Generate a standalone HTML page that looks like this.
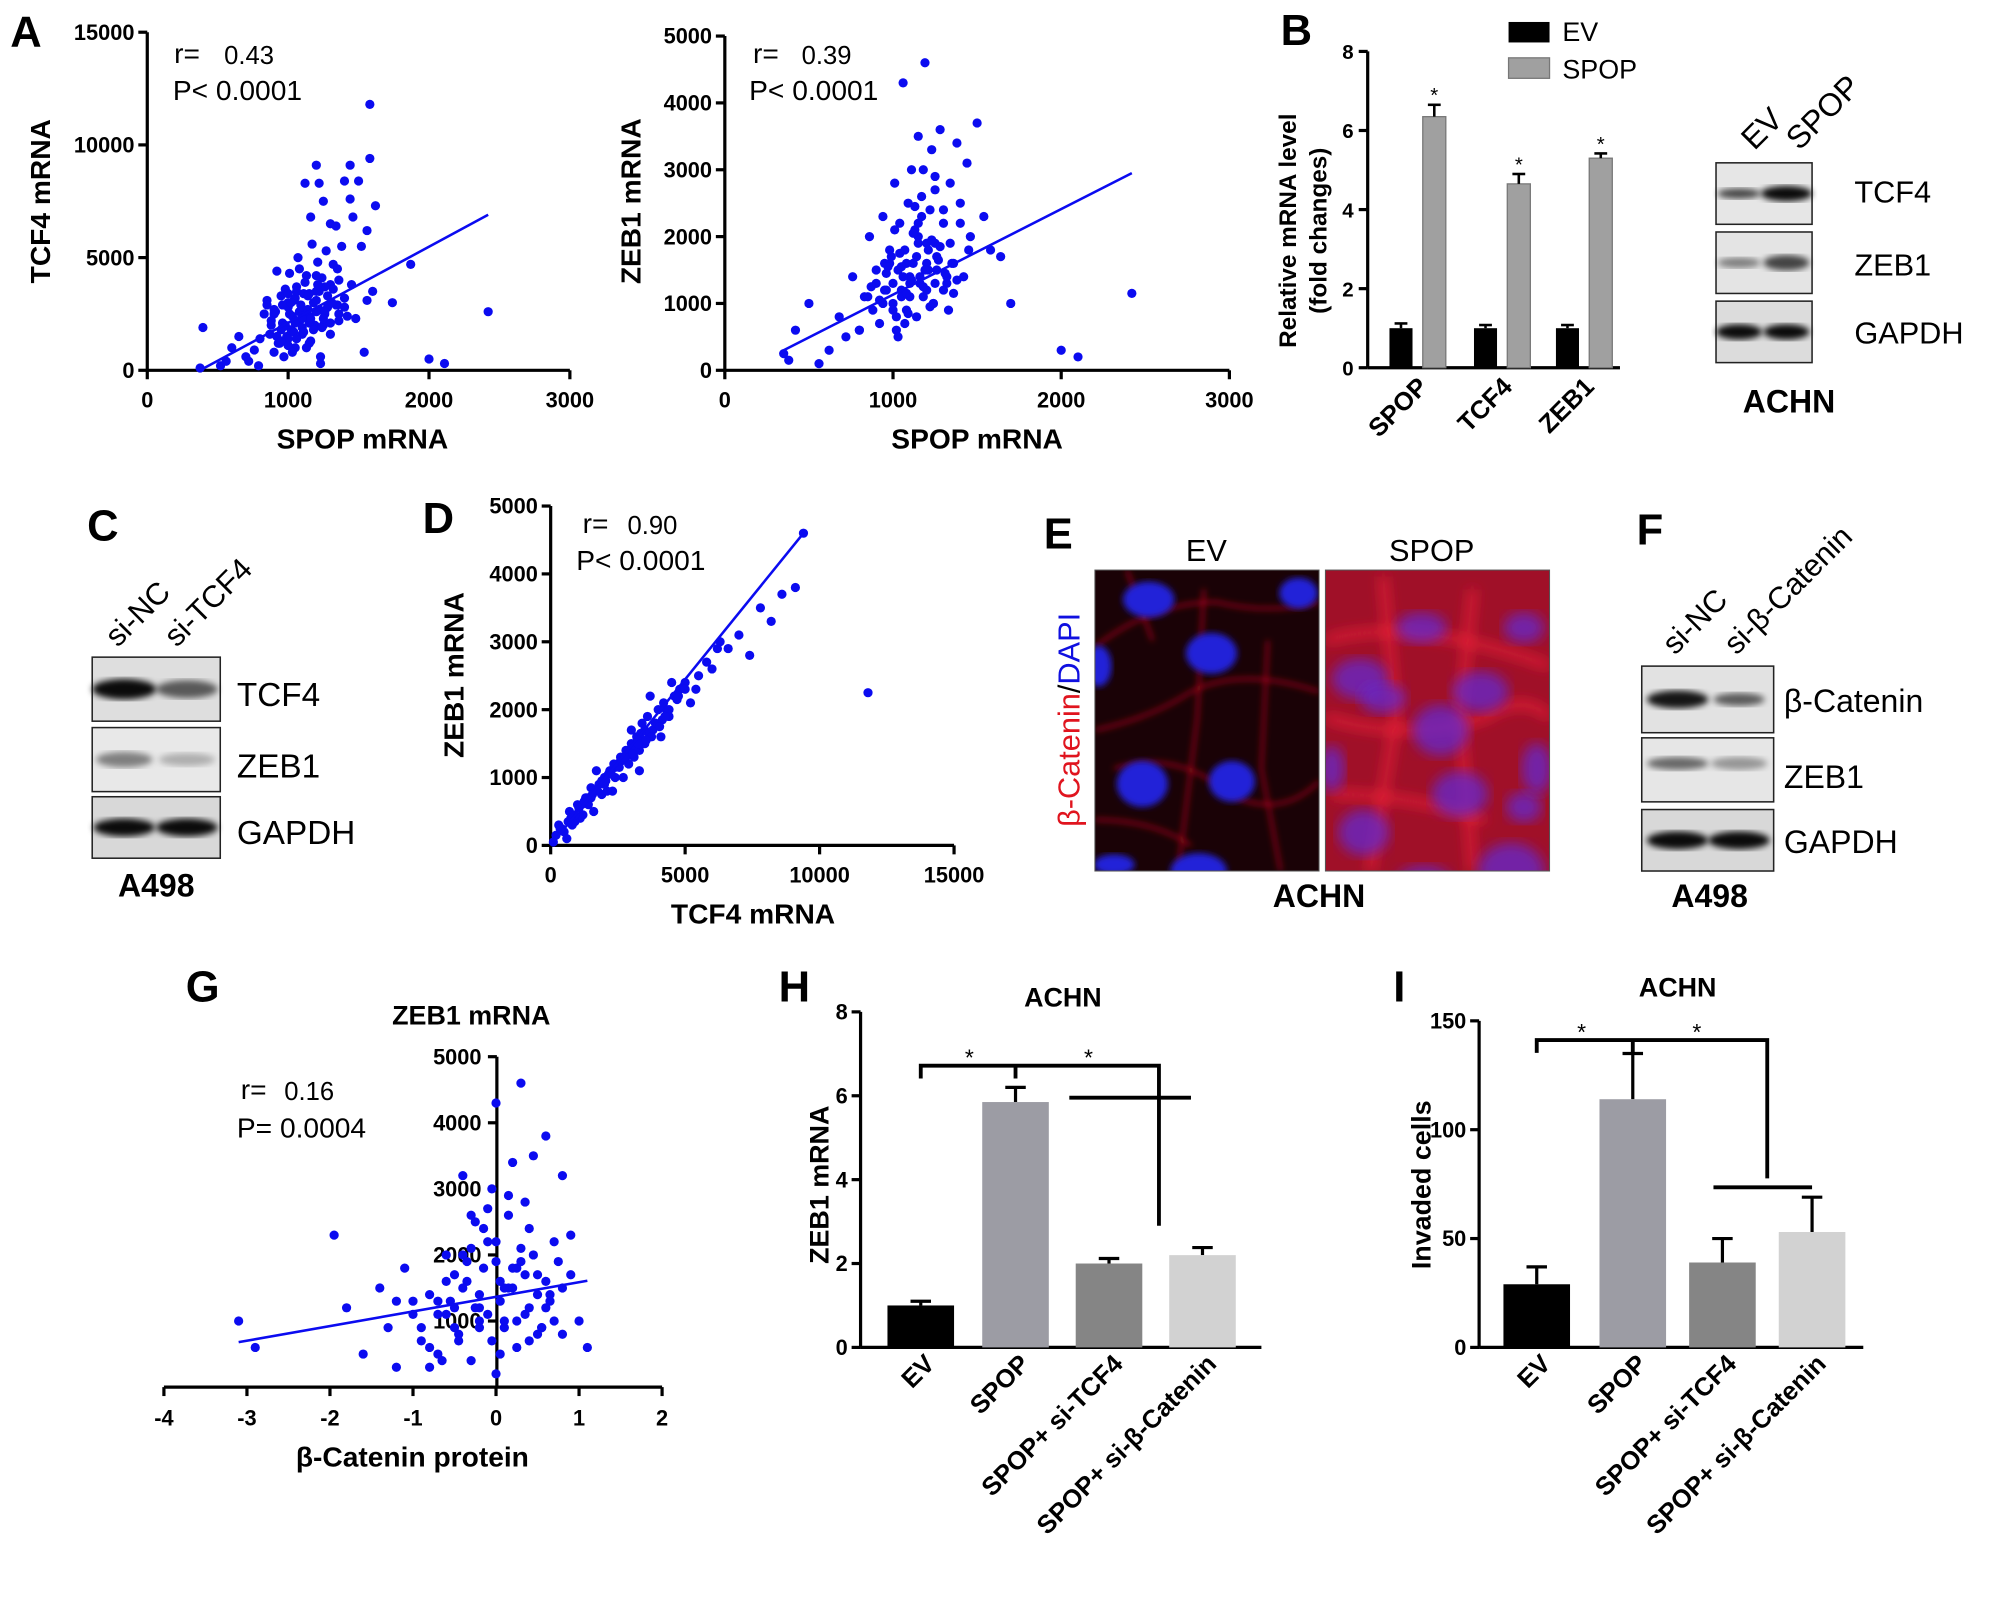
<!DOCTYPE html>
<html><head><meta charset="utf-8"><style>
html,body{margin:0;padding:0;background:#fff;}
svg{display:block;font-family:"Liberation Sans",Arial,sans-serif;}
</style></head><body>
<svg id="fig" width="2008" height="1605" viewBox="0 0 1568 1253" xmlns="http://www.w3.org/2000/svg">
<defs>
<filter id="blur2"><feGaussianBlur stdDeviation="2.5"/></filter>
<filter id="blur4"><feGaussianBlur stdDeviation="5"/></filter>
<clipPath id="clipEV"><rect x="855" y="445" width="175" height="235"/></clipPath>
<clipPath id="clipSP"><rect x="1035" y="445" width="175" height="235"/></clipPath>
</defs>
<g id="root"></g>
</svg>
<script>
// ---------- DATA ----------
const a1Spop=[375,395,520,560,600,650,700,720,760,790,800,830,850,870,880,900,910,920,930,950,960,970,980,990,1000,1010,1020,1030,1040,1050,1060,1070,1080,1090,1100,1110,1120,1130,1140,1150,1160,1170,1180,1190,1200,1210,1220,1230,1240,1250,1260,1270,1280,1300,1320,1340,1360,1380,1400,1420,1440,1460,1480,1500,1520,1540,1560,1580,1600,1620,1740,1870,2000,2110,2420,1080,1220,1440,1560,1580,900,950,1000,1050,1100,1150,1200,1250,1300,1350,1000,1100,1200,1050,1150,
 880,920,960,1000,1040,1080,1120,1160,1200,1240,1280,1320,1360,1400,940,980,1020,1060,1100,1140,1180,1220,1260,1300,1340,900,1000,1100,1200,1300,1400,960,1060,1160,1260,1360,1010,1110,1210,1310,850,950,1050,1150,1250,1350,1450,1030,1130,1230];
const a1Tcf4=[100,1900,200,400,1000,1500,600,400,900,200,1400,2500,3100,1600,2000,800,2600,4400,1200,3300,2100,600,3600,1500,2800,4300,1800,2400,3100,1000,3700,5000,2200,2900,1600,3400,8300,4200,2700,1200,6800,5600,3000,2000,9100,4800,3500,300,4100,7500,2500,5300,3300,6500,4700,6400,4000,5500,8400,2400,9100,6800,2300,8400,5500,800,3100,9400,3500,7300,3000,4700,500,300,2600,4500,8300,7600,6200,11800,2500,1800,3000,2200,2700,2400,3500,2000,3800,2900,1400,1900,2600,3200,2100,
 2200,1500,2900,3400,1700,2600,3900,2300,4200,1900,2800,3600,2500,3200,1200,2000,3000,1400,2400,3300,1800,2700,3700,2100,2900,2700,1100,2300,3100,1600,2800,1900,3500,1300,2600,2200,2500,1700,3800,3000,2900,1300,2100,3400,2300,4500,3800,800,1000,600];
const a2Spop=[350,380,420,500,560,620,680,720,760,800,830,860,880,900,920,940,960,980,1000,1010,1020,1030,1040,1050,1060,1070,1080,1090,1100,1110,1120,1130,1140,1150,1160,1170,1180,1190,1200,1210,1220,1230,1240,1250,1260,1280,1300,1320,1340,1360,1380,1400,1420,1440,1460,1500,1540,1580,1640,1700,2000,2100,2420,1080,1150,1250,1330,1000,1100,1200,950,1050,1150,1250,1300,
 900,940,980,1020,1060,1100,1140,1180,1220,1260,1300,1340,1380,920,960,1000,1040,1080,1120,1160,1200,1240,1280,1320,1360,870,970,1070,1170,1270,1010,1110,1210,1310,1030,1130,1230,990,1090,1190,850,950,1050,1150,1250,1350,1450,800,1400,1180];
const a2Zeb1=[250,150,600,1000,100,300,800,500,1400,600,1100,2000,900,1500,700,2300,1200,1800,1000,2800,600,1500,2200,1200,4300,1800,900,2500,1300,3000,1600,2100,800,3500,1400,2600,1100,4600,1900,1500,2400,3300,1000,2900,1700,3600,2200,1300,2800,1600,3400,2500,1400,3100,2000,3700,2300,1800,1700,1000,300,200,1150,1600,2200,2700,900,1300,1400,1200,1600,1100,2000,1900,2400,
 1300,1000,1600,800,1400,1100,1700,1250,950,1500,1200,1900,1350,1050,1450,900,1750,1150,2050,1300,1600,1000,1850,1400,1150,1250,1550,700,2300,1650,2100,1350,1800,1450,500,2450,1950,1700,850,1500,1100,1200,1550,1900,1300,1600,1800,600,2200,3000];
const dTcf4=[100,300,500,700,800,1000,1200,1300,1500,1600,1800,1900,2000,2200,2300,2500,2600,2700,2800,2900,3000,3100,3200,3300,3400,3500,3600,3800,4000,4200,4400,4600,4800,5000,5200,5500,5800,6000,6300,6600,7000,7400,7800,8200,8600,9100,9400,11800,600,1400,2100,2400,3000,3300,3700,4100,4500,1100,1700,2600,3100,3500,900,1500,2000,2800,3900,4300,5400,6200,
 200,400,650,900,1150,1400,1650,1900,2150,2400,2650,2900,3150,3400,3650,3900,4150,4400,4700,5000,350,750,1250,1750,2250,2750,3250,3750,4250,4750,1050,1550,2050,2550,3050,3550,4050,1350,2350,3350];
const dZeb1=[50,300,200,500,300,600,450,700,700,500,900,750,1000,1100,800,1200,1300,1000,1400,1200,1500,1300,1600,1400,1800,1500,1900,1700,2000,2100,1900,2200,2300,2400,2100,2500,2700,2600,3000,2900,3100,2800,3500,3300,3700,3800,4600,2250,100,600,800,1000,1700,1100,2200,1600,2400,400,1100,1250,1400,1700,350,850,900,1300,1800,2000,2300,2900,
 150,250,350,450,600,700,800,950,1050,1150,1250,1400,1450,1550,1650,1800,1850,2000,2150,2300,250,400,650,800,1050,1300,1500,1600,1900,2200,550,750,950,1150,1350,1550,1750,700,1200,1650];
const gBcat=[-3.1,-2.9,-1.95,-1.8,-1.6,-1.4,-1.3,-1.2,-1.1,-1.0,-0.9,-0.8,-0.7,-0.6,-0.5,-0.45,-0.4,-0.35,-0.3,-0.25,-0.2,-0.15,-0.1,-0.05,0,0.05,0.1,0.15,0.2,0.25,0.3,0.35,0.4,0.45,0.5,0.55,0.6,0.65,0.7,0.8,0.9,1.0,1.1,-0.6,-0.3,0,0.2,0.4,-0.8,-0.2,0.1,0.3,0.6,-0.5,-0.1,0.05,0.25,0.5,-1.0,0.8,-0.4,0.15,-0.7,0.35,0.0,-0.2,
 -0.9,-0.7,-0.5,-0.3,-0.1,0.1,0.3,0.5,0.7,0.9,-0.8,-0.6,-0.4,-0.2,0,0.2,0.4,0.6,0.8,-0.55,-0.35,-0.15,0.05,0.25,0.45,0.65,-0.45,-0.25,0.15,0.35,-1.2,-0.65,0.55,0.75,-0.05];
const gZeb1=[1000,600,2300,1200,500,1500,900,300,1800,1100,700,1400,500,2000,1200,800,3200,1600,400,2500,1000,1800,2200,700,4300,1300,900,2900,1500,600,4600,1100,2400,3500,1700,900,3800,1300,2200,1500,1700,1000,600,1600,2600,1900,3400,700,300,1400,1000,2100,1200,900,2700,500,1800,800,1300,3200,2000,1500,1100,2800,200,1200,
 900,1300,1700,2100,1100,1500,1900,1400,1000,2300,600,1100,1500,900,2200,1800,1200,1600,800,1300,1900,2400,1600,1000,2000,1400,700,1200,2600,1700,1300,400,900,1900,3000];
const bCats=["SPOP","TCF4","ZEB1"];
const bEV=[1.0,1.0,1.0], bEVerr=[0.12,0.08,0.08];
const bSPOP=[6.35,4.65,5.3], bSPOPerr=[0.3,0.25,0.12];
const hCats=["EV","SPOP","SPOP+ si-TCF4","SPOP+ si-\u03b2-Catenin"];
const hVals=[1.0,5.85,2.0,2.2], hErr=[0.1,0.35,0.12,0.18];
const iVals=[29,114,39,53], iErr=[8,21,11,16];
const barColors=["#000000","#9c9ca4","#858585","#d2d2d2"];

// ---------- HELPERS ----------
const NS="http://www.w3.org/2000/svg";
const root=document.getElementById('root');
function mk(tag,attrs,parent){const e=document.createElementNS(NS,tag);for(const k in attrs)e.setAttribute(k,attrs[k]);(parent||root).appendChild(e);return e;}
function txt(s,x,y,size,opts,parent){opts=opts||{};const e=mk('text',{x:x,y:y,'font-size':size,'text-anchor':opts.anchor||'start','font-weight':opts.bold?'bold':'normal',fill:opts.fill||'#000'},parent);if(opts.rot!==undefined)e.setAttribute('transform','rotate('+opts.rot+' '+x+' '+y+')');e.textContent=s;return e;}
function line(x1,y1,x2,y2,w,parent,col){return mk('line',{x1:x1,y1:y1,x2:x2,y2:y2,stroke:col||'#000','stroke-width':w||2.5},parent);}
function lin(d0,d1,p0,p1){return v=>p0+(v-d0)*(p1-p0)/(d1-d0);}

// ---------- SCATTER ----------
function scatter(name,xs,ys,sx,sy,fit,parent){
  const g=mk('g',{},parent);
  
  
  for(let i=0;i<xs.length;i++){
    const c=mk('circle',{cx:sx(xs[i]),cy:sy(ys[i]),r:3.6,fill:'#0b0bf0'},g);
    
    
  }
  const l=line(sx(fit[0]),sy(fit[1]),sx(fit[2]),sy(fit[3]),2,parent,'#0b0bf0');
  
  
}
function axesXY(x0,y0,x1,yTop,xt,sx,yt,sy,parent){
  line(x0,y0,x1,y0,2.5,parent);line(x0,y0,x0,yTop,2.5,parent);
  xt.forEach(v=>{line(sx(v),y0,sx(v),y0+7,2.5,parent);txt(String(v),sx(v),y0+29,17,{anchor:'middle',bold:true},parent);});
  yt.forEach(v=>{line(x0-7,sy(v),x0,sy(v),2.5,parent);txt(String(v),x0-10,sy(v)+6,17,{anchor:'end',bold:true},parent);});
}

// Panel A1
(function(){
 const g=mk('g',{});
 const sx=lin(0,3000,115,445), sy=lin(0,15000,289,25);
 axesXY(115,289,445,25,[0,1000,2000,3000],sx,[0,5000,10000,15000],sy,g);
 scatter('a-tcf4',a1Spop,a1Tcf4,sx,sy,[375,0,2420,6900],g);
 txt('A',8,36,34,{bold:true},g);
 txt('r=',136,49,22,{},g);txt('0.43',175,50,20,{},g);
 txt('P< 0.0001',135,78,22,{},g);
 txt('TCF4 mRNA',39,157,22,{bold:true,rot:-90,anchor:'middle'},g);
 txt('SPOP mRNA',283,350,22,{bold:true,anchor:'middle'},g);
})();
// Panel A2
(function(){
 const g=mk('g',{});
 const sx=lin(0,3000,566,960), sy=lin(0,5000,289,28);
 axesXY(566,289,960,28,[0,1000,2000,3000],sx,[0,1000,2000,3000,4000,5000],sy,g);
 scatter('a-zeb1',a2Spop,a2Zeb1,sx,sy,[350,300,2420,2950],g);
 txt('r=',588,49,22,{},g);txt('0.39',626,50,20,{},g);
 txt('P< 0.0001',585,78,22,{},g);
 txt('ZEB1 mRNA',500,157,22,{bold:true,rot:-90,anchor:'middle'},g);
 txt('SPOP mRNA',763,350,22,{bold:true,anchor:'middle'},g);
})();
// Panel B bar
(function(){
 const g=mk('g',{});
 const sy=lin(0,8,287,40);
 line(1068,287,1265,287,2.5,g);line(1068,287,1068,40,2.5,g);
 [0,2,4,6,8].forEach(v=>{line(1061,sy(v),1068,sy(v),2.5,g);txt(String(v),1057,sy(v)+6,16,{anchor:'end',bold:true},g);});
 const cx=[1094,1160,1224];
 bCats.forEach((c,i)=>{
  const r1=mk('rect',{x:cx[i]-9,y:sy(bEV[i]),width:18,height:sy(0)-sy(bEV[i]),fill:'#000'},g);
  
  line(cx[i],sy(bEV[i]),cx[i],sy(bEV[i]+bEVerr[i]),2,g);line(cx[i]-5,sy(bEV[i]+bEVerr[i]),cx[i]+5,sy(bEV[i]+bEVerr[i]),2,g);
  const x2=cx[i]+26;
  const r2=mk('rect',{x:x2-9,y:sy(bSPOP[i]),width:18,height:sy(0)-sy(bSPOP[i]),fill:'#a0a0a0',stroke:'#777','stroke-width':1},g);
  
  line(x2,sy(bSPOP[i]),x2,sy(bSPOP[i]+bSPOPerr[i]),2,g);line(x2-5,sy(bSPOP[i]+bSPOPerr[i]),x2+5,sy(bSPOP[i]+bSPOPerr[i]),2,g);
  txt('*',x2,sy(bSPOP[i]+bSPOPerr[i])-2,16,{anchor:'middle'},g);
  txt(c,cx[i]+22,303,20,{bold:true,anchor:'end',rot:-45},g);
 });
 txt('B',1000,35,34,{bold:true},g);
 txt('Relative mRNA level',1012,180,19,{bold:true,rot:-90,anchor:'middle'},g);
 txt('(fold changes)',1036,180,19,{bold:true,rot:-90,anchor:'middle'},g);
 const l1=mk('rect',{x:1178,y:17,width:32,height:16,fill:'#000'},g);
 txt('EV',1220,32,21,{},g);
 const l2=mk('rect',{x:1178,y:45,width:32,height:16,fill:'#a0a0a0',stroke:'#777'},g);
 txt('SPOP',1220,61,21,{},g);
})();
// ---------- BLOTS ----------
function blot(name,x,y,w,h,bands,bg,parent){
 const g=mk('g',{},parent);
 
 
 mk('rect',{x:x,y:y,width:w,height:h,fill:bg,stroke:'#222','stroke-width':1.2},g);
 bands.forEach(b=>{mk('ellipse',{cx:b[0],cy:y+h/2+(b[4]||0),rx:b[1],ry:b[2],fill:'#000','fill-opacity':b[3],filter:'url(#blur2)'},g);});
}
(function(){
 const g=mk('g',{});
 blot('blot-tcf4-achn',1340,127,75,48,[[1358,17,4,0.7],[1395,20,6,0.95]],'#e6e6e6',g);
 blot('blot-zeb1-achn',1340,181,75,48,[[1358,17,4,0.45],[1395,18,6,0.7]],'#e4e4e4',g);
 blot('blot-gapdh-achn',1340,235,75,48,[[1358,18,6,0.95],[1395,18,6,0.95]],'#dcdcdc',g);
 txt('TCF4',1448,158,24,{},g);txt('ZEB1',1448,215,24,{},g);txt('GAPDH',1448,268,24,{},g);
 txt('EV',1370,118,25,{rot:-45},g);txt('SPOP',1405,118,25,{rot:-45},g);
 txt('ACHN',1397,322,25,{bold:true,anchor:'middle'},g);
})();
(function(){
 const g=mk('g',{});
 txt('C',68,422,34,{bold:true},g);
 blot('blot-tcf4-a498',72,513,100,50,[[97,25,8,0.95],[146,24,7,0.6]],'#dedede',g);
 blot('blot-zeb1-a498',72,568,100,50,[[97,22,6,0.45],[146,22,5,0.25]],'#e8e8e8',g);
 blot('blot-gapdh-a498',72,622,100,48,[[97,24,7,0.95],[146,24,7,0.95]],'#d8d8d8',g);
 txt('TCF4',185,551,26,{},g);txt('ZEB1',185,607,26,{},g);txt('GAPDH',185,659,26,{},g);
 txt('si-NC',92,506,24,{rot:-45},g);txt('si-TCF4',138,506,24,{rot:-45},g);
 txt('A498',122,700,25,{bold:true,anchor:'middle'},g);
})();
// Panel D
(function(){
 const g=mk('g',{});
 const sx=lin(0,15000,430,745), sy=lin(0,5000,660,395);
 axesXY(430,660,745,395,[0,5000,10000,15000],sx,[0,1000,2000,3000,4000,5000],sy,g);
 scatter('d-zeb1-tcf4',dTcf4,dZeb1,sx,sy,[0,0,9400,4600],g);
 txt('D',330,416,34,{bold:true},g);
 txt('r=',455,416,22,{},g);txt('0.90',490,417,20,{},g);
 txt('P< 0.0001',450,445,22,{},g);
 txt('ZEB1 mRNA',362,527,22,{bold:true,rot:-90,anchor:'middle'},g);
 txt('TCF4 mRNA',588,721,22,{bold:true,anchor:'middle'},g);
})();
// Panel E images
(function(){
 const g=mk('g',{});
 txt('E',815,428,34,{bold:true},g);
 txt('EV',942,438,24,{anchor:'middle'},g);txt('SPOP',1118,438,24,{anchor:'middle'},g);
 const t=txt('',843,562,24,{rot:-90,anchor:'middle'},g);
 const s1=mk('tspan',{fill:'#e0141e'},t);s1.textContent='\u03b2-Catenin';
 const s2=mk('tspan',{fill:'#000'},t);s2.textContent='/';
 const s3=mk('tspan',{fill:'#1010e0'},t);s3.textContent='DAPI';
 txt('ACHN',1030,708,25,{bold:true,anchor:'middle'},g);
 const e=mk('g',{'clip-path':'url(#clipEV)'},g);
 mk('rect',{x:855,y:445,width:175,height:235,fill:'#1a0206'},e);
 mk('path',{d:'M855,505 Q900,470 950,470 Q990,480 1030,470 M855,570 Q900,560 930,540 Q970,520 1030,540 M870,600 Q920,585 960,620 Q1000,640 1030,610 M940,460 L935,560 L920,680 M990,500 L985,600 L1000,680 M855,640 Q900,640 930,660 M880,445 L900,500',fill:'none',stroke:'#b0101a','stroke-width':2,filter:'url(#blur2)'},e);
 [[897,468,20,14],[1014,463,15,12],[946,510,20,16],[892,612,20,18],[962,610,18,16],[936,680,22,14],[858,520,10,16],[870,675,16,8]].forEach(n=>mk('ellipse',{cx:n[0],cy:n[1],rx:n[2],ry:n[3],fill:'#2424d8',filter:'url(#blur2)'},e));
 const e2=mk('g',{'clip-path':'url(#clipSP)'},g);
 mk('rect',{x:1035,y:445,width:175,height:235,fill:'#a01028'},e2);
 mk('path',{d:'M1035,500 Q1100,480 1210,520 M1035,560 Q1100,580 1160,560 Q1190,540 1210,560 M1040,620 Q1100,620 1160,640 M1080,450 L1090,560 L1070,680 M1150,460 L1140,560 L1150,680',fill:'none',stroke:'#f02038','stroke-width':5,filter:'url(#blur4)'},e2);
 [[1062,530,22,16],[1080,545,18,12],[1125,570,22,20],[1156,540,22,16],[1140,620,22,18],[1065,650,20,18],[1112,690,22,14],[1180,680,26,22],[1110,490,20,12],[1190,630,14,12],[1190,490,16,12],[1200,600,12,20],[1040,600,10,18]].forEach(n=>mk('ellipse',{cx:n[0],cy:n[1],rx:n[2],ry:n[3],fill:'#6428d0','fill-opacity':0.75,filter:'url(#blur4)'},e2));
 mk('rect',{x:855,y:445,width:175,height:235,fill:'none',stroke:'#555','stroke-width':0.8},g);
 mk('rect',{x:1035,y:445,width:175,height:235,fill:'none',stroke:'#555','stroke-width':0.8},g);
})();
(function(){
 const g=mk('g',{});
 txt('F',1278,425,34,{bold:true},g);
 blot('blot-bcatenin-a498',1282,520,103,52,[[1310,24,7,0.9],[1358,20,5,0.6]],'#e2e2e2',g);
 blot('blot-zeb1-a498-f',1282,576,103,50,[[1310,24,5,0.55,-5],[1358,22,5,0.35,-5]],'#e6e6e6',g);
 blot('blot-gapdh-a498-f',1282,632,103,48,[[1310,24,7,0.95],[1358,24,7,0.95]],'#d8d8d8',g);
 txt('\u03b2-Catenin',1393,556,25,{},g);txt('ZEB1',1393,615,25,{},g);txt('GAPDH',1393,666,25,{},g);
 txt('si-NC',1308,512,24,{rot:-45},g);txt('si-\u03b2-Catenin',1356,512,24,{rot:-45},g);
 txt('A498',1335,708,25,{bold:true,anchor:'middle'},g);
})();
// Panel G
(function(){
 const g=mk('g',{});
 const sx=lin(-4,2,128,517), sy=lin(0,5000,1083,825);
 line(128,1083,517,1083,2.5,g);line(388,1083,388,825,2.5,g);
 [-4,-3,-2,-1,0,1,2].forEach(v=>{line(sx(v),1083,sx(v),1090,2.5,g);txt(String(v),sx(v),1113,17,{anchor:'middle',bold:true},g);});
 [1000,2000,3000,4000,5000].forEach(v=>{line(381,sy(v),388,sy(v),2.5,g);txt(String(v),376,sy(v)+6,17,{anchor:'end',bold:true},g);});
 scatter('g-zeb1-bcatenin',gBcat,gZeb1,sx,sy,[-3.1,680,1.1,1610],g);
 txt('G',145,782,34,{bold:true},g);
 txt('ZEB1 mRNA',368,800,21,{bold:true,anchor:'middle'},g);
 txt('r=',188,858,22,{},g);txt('0.16',222,859,20,{},g);
 txt('P= 0.0004',185,888,22,{},g);
 txt('\u03b2-Catenin protein',322,1145,22,{bold:true,anchor:'middle'},g);
})();
// Bar panels H, I
function barPanel(name,vals,errs,yMax,ticks,x0,xEnd,yTop,centers,bw,ylab,ylabX,letter,lx,titleX,titleY,brackets){
 const g=mk('g',{});
 const sy=lin(0,yMax,1052,yTop);
 line(x0,1052,xEnd,1052,2.5,g);line(x0,1052,x0,yTop,2.5,g);
 ticks.forEach(v=>{line(x0-7,sy(v),x0,sy(v),2.5,g);txt(String(v),x0-10,sy(v)+6,17,{anchor:'end',bold:true},g);});
 vals.forEach((v,i)=>{
  const top=sy(v+errs[i]);
  line(centers[i],sy(v),centers[i],top,2.5,g);line(centers[i]-8,top,centers[i]+8,top,2.5,g);
  const r=mk('rect',{x:centers[i]-bw/2,y:sy(v),width:bw,height:1052-sy(v),fill:barColors[i]},g);
  
  
  txt(hCats[i],centers[i]+12,1066,20,{bold:true,anchor:'end',rot:-45},g);
 });
 txt(letter,lx,782,34,{bold:true},g);
 txt('ACHN',titleX,titleY,21,{bold:true,anchor:'middle'},g);
 txt(ylab,ylabX,925,21,{bold:true,rot:-90,anchor:'middle'},g);
 const p=mk('path',{d:brackets,fill:'none',stroke:'#000','stroke-width':3},g);
 
 return g;
}
const hg=barPanel('panel-h-bar-chart',hVals,hErr,8,[0,2,4,6,8],672,985,790,[719,793,866,939],52,'ZEB1 mRNA',647,'H',608,830,786,
 'M719,842 L719,832 L793,832 L793,842 M793,832 L905,832 L905,957 M835,857 L930,857');
txt('*',757,832,18,{anchor:'middle'},hg);txt('*',850,832,18,{anchor:'middle'},hg);
const ig=barPanel('panel-i-bar-chart',iVals,iErr,150,[0,50,100,150],1155,1455,797,[1200,1275,1345,1415],52,'Invaded cells',1117,'I',1088,1310,778,
 'M1200,822 L1200,812 L1275,812 L1275,822 M1275,812 L1380,812 L1380,920 M1338,927 L1415,927');
txt('*',1235,812,18,{anchor:'middle'},ig);txt('*',1325,812,18,{anchor:'middle'},ig);
</script>
</body></html>
